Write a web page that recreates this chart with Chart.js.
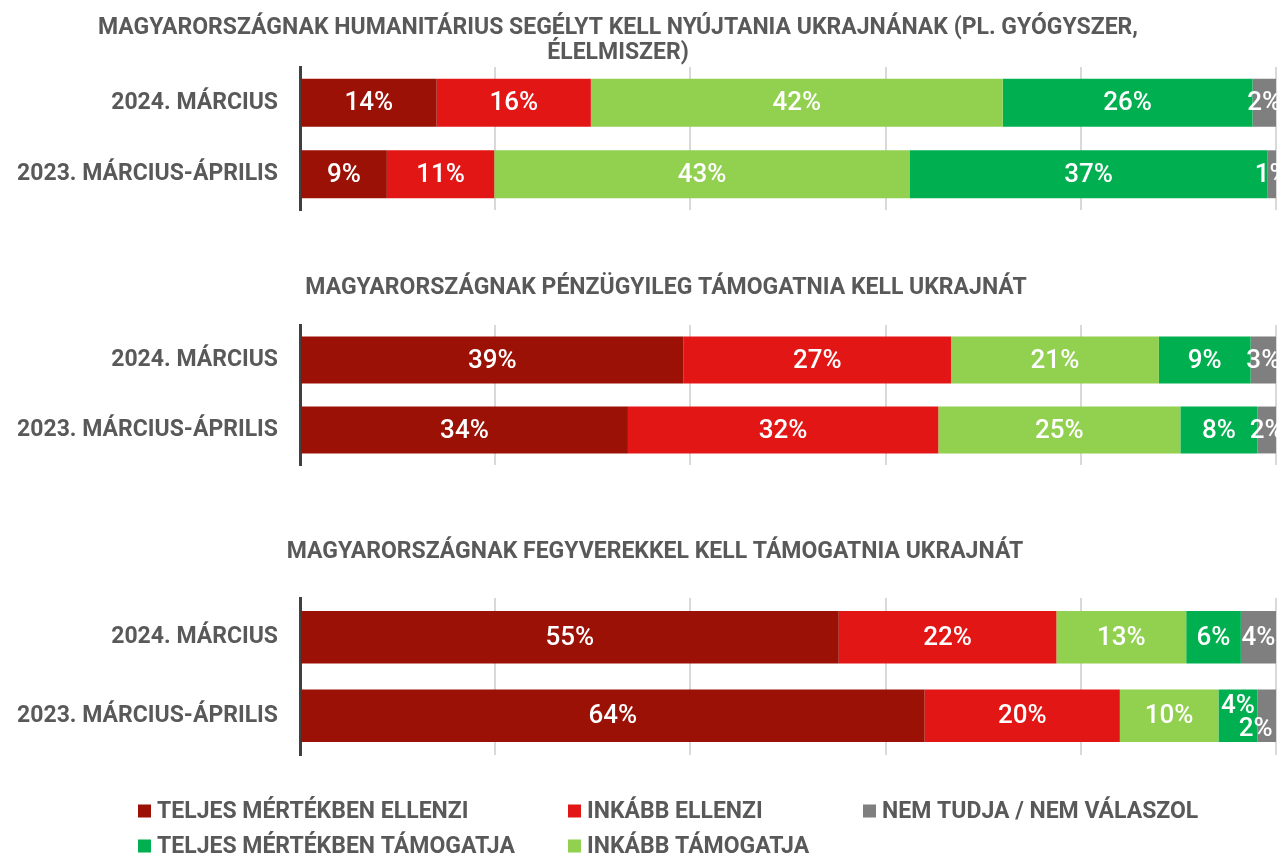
<!DOCTYPE html>
<html>
<head>
<meta charset="utf-8">
<script src="https://cdn.jsdelivr.net/npm/chart.js@4.4.1/dist/chart.umd.min.js"></script>
<style>
  html, body { margin: 0; padding: 0; background: #fff; }
  #page { position: relative; width: 1279px; height: 857px; overflow: hidden; }
  canvas { position: absolute; left: 0; }
</style>
</head>
<body>
<div id="page">
  <canvas id="c1" width="1279" height="250" style="top:0px;width:1279px;height:250px"></canvas>
  <canvas id="c2" width="1279" height="285" style="top:220px;width:1279px;height:285px"></canvas>
  <canvas id="c3" width="1279" height="387" style="top:470px;width:1279px;height:387px"></canvas>
</div>
<script>
const categories = ["2024. MÁRCIUS", "2023. MÁRCIUS-ÁPRILIS"];
const seriesNames = [
  "TELJES MÉRTÉKBEN ELLENZI",
  "INKÁBB ELLENZI",
  "INKÁBB TÁMOGATJA",
  "TELJES MÉRTÉKBEN TÁMOGATJA",
  "NEM TUDJA / NEM VÁLASZOL",
];
const seriesColors = ["#9c1106", "#e31616", "#92d050", "#00b050", "#7f7f7f"];

// values per row, in the order of seriesNames (shown rounded)
const aid2024 = [14.0, 15.8, 42.2, 25.6, 2.4];
const aid2023 = [8.9, 11.0, 42.6, 36.6, 0.9];
const money2024 = [39.3, 27.4, 21.3, 9.4, 2.6];
const money2023 = [33.6, 31.8, 24.8, 7.9, 1.9];
const weapons2024 = [55.2, 22.3, 13.3, 5.6, 3.6];
const weapons2023 = [64.0, 20.0, 10.1, 4.0, 1.9];

const titleAid = [
  "MAGYARORSZÁGNAK HUMANITÁRIUS SEGÉLYT KELL NYÚJTANIA UKRAJNÁNAK (PL. GYÓGYSZER,",
  "ÉLELMISZER)",
];
const titleMoney = ["MAGYARORSZÁGNAK PÉNZÜGYILEG TÁMOGATNIA KELL UKRAJNÁT"];
const titleWeapons = ["MAGYARORSZÁGNAK FEGYVEREKKEL KELL TÁMOGATNIA UKRAJNÁT"];

const textGray = "#595959";
const FONT = "Roboto";

// white percentage labels in the middle of each segment
const barLabels = {
  id: "barLabels",
  afterDatasetsDraw(chart, args, opts) {
    const ctx = chart.ctx;
    const nudge = opts.nudge || {};
    ctx.save();
    ctx.font = "500 26px " + FONT;
    ctx.fillStyle = "#ffffff";
    ctx.textAlign = "center";
    ctx.textBaseline = "middle";
    chart.data.datasets.forEach((ds, i) => {
      const meta = chart.getDatasetMeta(i);
      meta.data.forEach((bar, j) => {
        let x = (bar.x + bar.base) / 2;
        let y = bar.y + 1;
        const n = nudge[i + "-" + j];
        if (n) { x += n[0]; y += n[1]; }
        ctx.fillText(Math.round(ds.data[j]) + "%", x, y);
      });
    });
    ctx.restore();
  },
};

// panel title drawn at a chosen centre
const panelTitle = {
  id: "panelTitle",
  afterDraw(chart, args, opts) {
    if (!opts.lines) return;
    const ctx = chart.ctx;
    ctx.save();
    ctx.font = "bold 23px " + FONT;
    ctx.fillStyle = textGray;
    ctx.textAlign = "center";
    ctx.textBaseline = "middle";
    opts.lines.forEach((line, k) => {
      ctx.fillText(line, opts.x, opts.y + k * 25);
    });
    ctx.restore();
  },
};

// legend in two rows with fixed columns, like the original
const gridLegend = {
  id: "gridLegend",
  afterDraw(chart, args, opts) {
    if (!opts.rows) return;
    const ctx = chart.ctx;
    ctx.save();
    ctx.font = "bold 23px " + FONT;
    ctx.textBaseline = "middle";
    opts.rows.forEach((row, r) => {
      const y = opts.y[r];
      row.forEach((idx, c) => {
        const x = opts.x[c];
        const ds = chart.data.datasets[idx];
        ctx.fillStyle = ds.backgroundColor;
        ctx.fillRect(x, y - 6.5, 13, 13);
        ctx.fillStyle = textGray;
        ctx.fillText(ds.label, x + 19, y + 1);
      });
    });
    ctx.restore();
  },
};

function makeDatasets(row2024, row2023) {
  return seriesNames.map((name, i) => ({
    label: name,
    data: [row2024[i], row2023[i]],
    backgroundColor: seriesColors[i],
    borderWidth: 0,
    barPercentage: 0.67,
    categoryPercentage: 1,
  }));
}

function drawPanel(id, row2024, row2023, pad, pluginOpts) {
  const ctx = document.getElementById(id).getContext("2d");
  return new Chart(ctx, {
    type: "bar",
    data: { labels: categories, datasets: makeDatasets(row2024, row2023) },
    plugins: [barLabels, panelTitle, gridLegend],
    options: {
      indexAxis: "y",
      responsive: false,
      maintainAspectRatio: false,
      animation: false,
      devicePixelRatio: 1,
      layout: { padding: pad },
      scales: {
        x: {
          stacked: true,
          min: 0,
          max: 100,
          ticks: { display: false, stepSize: 20 },
          grid: { color: "#d9d9d9", lineWidth: 2, drawTicks: false },
          border: { display: false },
          afterFit(scale) { scale.height = 0; },
        },
        y: {
          stacked: true,
          grid: { display: false, drawTicks: false },
          border: { color: "#404040", width: 3 },
          ticks: {
            color: textGray,
            padding: 22,
            font: { family: FONT, size: 23, weight: "bold" },
          },
          afterFit(scale) { scale.width = 300; },
        },
      },
      plugins: {
        legend: { display: false },
        tooltip: { enabled: false },
        barLabels: pluginOpts.barLabels || {},
        panelTitle: pluginOpts.title,
        gridLegend: pluginOpts.legend || {},
      },
    },
  });
}

drawPanel("c1", aid2024, aid2023,
  { top: 67, bottom: 40, left: 0, right: 3 },
  { title: { lines: titleAid, x: 618, y: 28 } });

drawPanel("c2", money2024, money2023,
  { top: 105, bottom: 40, left: 0, right: 3 },
  { title: { lines: titleMoney, x: 666, y: 68 } });

drawPanel("c3", weapons2024, weapons2023,
  { top: 128, bottom: 102, left: 0, right: 3 },
  {
    title: { lines: titleWeapons, x: 655, y: 82 },
    barLabels: { nudge: { "3-1": [0, -10], "4-1": [-11, 13] } },
    legend: { rows: [[0, 1, 4], [3, 2]], x: [138, 568, 863], y: [341, 376] },
  });
</script>
</body>
</html>
